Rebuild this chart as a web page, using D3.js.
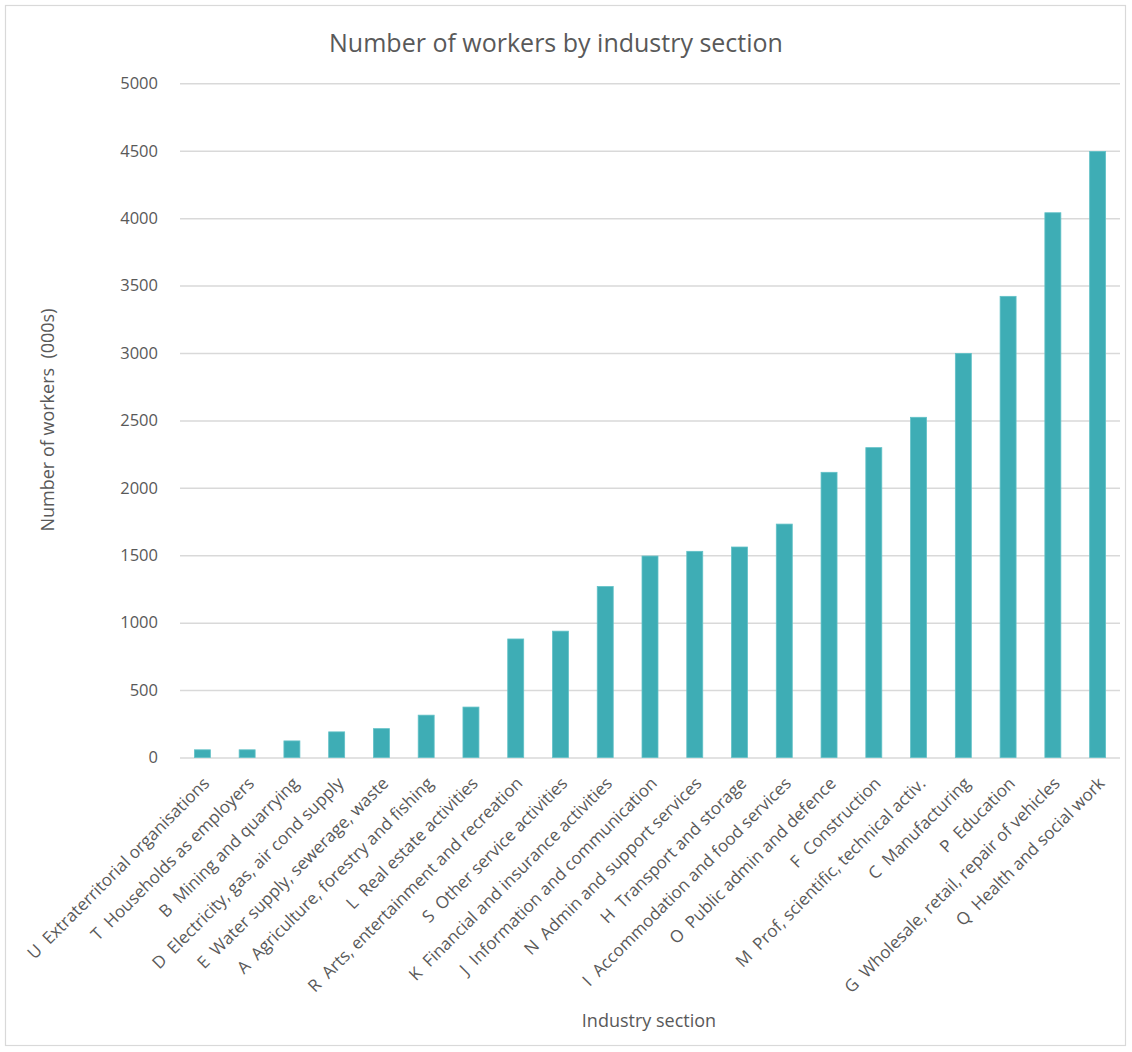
<!DOCTYPE html>
<html>
<head>
<meta charset="utf-8">
<script src="https://cdn.jsdelivr.net/npm/d3@7"></script>
<style>
  html, body { margin: 0; padding: 0; background: #fff; }
  svg { display: block; }
  svg text { font-family: "Open Sans", "Noto Sans", sans-serif; white-space: pre; }
</style>
</head>
<body>
<svg id="chart" width="1132" height="1052"></svg>
<script>
// Employment by industry section, thousands of workers, sorted ascending
const categories = [
  "U  Extraterritorial organisations",
  "T  Households as employers",
  "B  Mining and quarrying",
  "D  Electricity, gas, air cond supply",
  "E  Water supply, sewerage, waste",
  "A  Agriculture, forestry and fishing",
  "L  Real estate activities",
  "R  Arts, entertainment and recreation",
  "S  Other service activities",
  "K  Financial and insurance activities",
  "J  Information and communication",
  "N  Admin and support services",
  "H  Transport and storage",
  "I  Accommodation and food services",
  "O  Public admin and defence",
  "F  Construction",
  "M  Prof, scientific, technical activ.",
  "C  Manufacturing",
  "P  Education",
  "G  Wholesale, retail, repair of vehicles",
  "Q  Health and social work"
];
const workers = [57, 57, 123, 190, 214, 314, 374, 879, 937, 1268, 1494, 1529, 1561, 1731, 2115, 2298, 2523, 2997, 3420, 4040, 4495];
const yTicks = [0, 500, 1000, 1500, 2000, 2500, 3000, 3500, 4000, 4500, 5000];

const chartTitle = "Number of workers by industry section";
const xTitle = "Industry section";
const yTitle = "Number of workers  (000s)";

const svg = d3.select("#chart");
const textColor = "#595959";
const gridColor = "#d9d9d9";
const barColor = "#3eadb5";
const fontFamily = '"Open Sans", "Noto Sans", sans-serif';

const plot = { left: 180, right: 1120, top: 83.3, bottom: 757.5 };

// outer frame
svg.append("rect")
  .attr("x", 5.5).attr("y", 5.5)
  .attr("width", 1120).attr("height", 1040)
  .attr("fill", "#fff").attr("stroke", "#d9d9d9").attr("stroke-width", 1.2);

const x = d3.scaleBand()
  .domain(categories)
  .range([plot.left, plot.right])
  .paddingInner(0.643)
  .paddingOuter(0.3215);

const y = d3.scaleLinear()
  .domain([0, 5000])
  .range([plot.bottom, plot.top]);

// horizontal gridlines with value labels
const yAxis = d3.axisLeft(y)
  .tickValues(yTicks)
  .tickSize(-(plot.right - plot.left))
  .tickPadding(22)
  .tickFormat(d3.format("d"));

const gy = svg.append("g")
  .attr("transform", `translate(${plot.left},0)`)
  .call(yAxis)
  .attr("font-family", fontFamily);
gy.select(".domain").remove();
gy.selectAll(".tick line")
  .attr("stroke", gridColor)
  .attr("stroke-width", 1.5);
gy.selectAll(".tick text")
  .attr("fill", textColor)
  .style("font-size", "16.5px");

// bars
svg.append("g")
  .selectAll("rect")
  .data(categories)
  .join("rect")
  .attr("x", d => x(d))
  .attr("width", x.bandwidth())
  .attr("y", (d, i) => y(workers[i]))
  .attr("height", (d, i) => y(0) - y(workers[i]))
  .attr("fill", barColor)
  .attr("stroke", "#62c1c7")
  .attr("stroke-width", 0.8);

// category labels, rotated 45 degrees
const xAxis = d3.axisBottom(x).tickSize(0).tickPadding(0);
const gx = svg.append("g")
  .attr("transform", `translate(0,${plot.bottom})`)
  .call(xAxis)
  .attr("font-family", fontFamily);
gx.select(".domain").remove();
gx.selectAll(".tick text")
  .attr("fill", textColor)
  .style("font-size", "17px")
  .attr("text-anchor", "end")
  .attr("dy", null)
  .attr("y", null)
  .attr("transform", "translate(8,27) rotate(-45)");

// titles
svg.append("text")
  .attr("x", 556).attr("y", 52)
  .attr("text-anchor", "middle")
  .attr("fill", textColor)
  .style("font-size", "25px")
  .text(chartTitle);

svg.append("text")
  .attr("x", 649).attr("y", 1027)
  .attr("text-anchor", "middle")
  .attr("fill", textColor)
  .style("font-size", "18px")
  .text(xTitle);

svg.append("text")
  .attr("transform", "translate(54,420) rotate(-90)")
  .attr("text-anchor", "middle")
  .attr("fill", textColor)
  .style("font-size", "18px")
  .text(yTitle);
</script>
</body>
</html>
